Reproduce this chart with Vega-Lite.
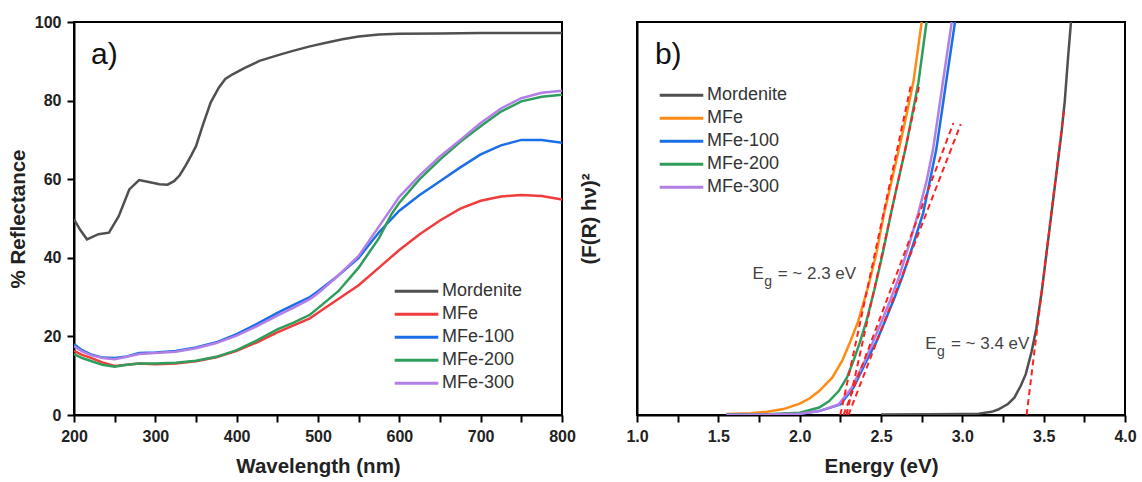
{
  "$schema": "https://vega.github.io/schema/vega-lite/v6.json",
  "padding": {"left": 7, "top": 13, "right": 5, "bottom": 5},
  "background": "white",
  "config": {
    "font": "Liberation Sans",
    "view": {"stroke": "black", "strokeWidth": 2},
    "axis": {
      "grid": false,
      "domainColor": "black", "domainWidth": 2,
      "tickColor": "black", "tickWidth": 2, "tickSize": 7,
      "labelFont": "Liberation Sans", "labelFontWeight": "bold", "labelFontSize": 16, "labelColor": "#222", "labelPadding": 6,
      "titleFont": "Liberation Sans", "titleFontWeight": "bold", "titleFontSize": 20.5, "titleColor": "#222",
      "labelOverlap": false, "labelFlush": false
    },
    "legend": {
      "labelFont": "Liberation Sans", "labelFontSize": 18, "labelColor": "#333",
      "symbolType": "stroke", "symbolStrokeWidth": 3, "symbolSize": 1900, "labelOffset": 2,
      "clipHeight": 20.7, "rowPadding": 2
    }
  },
  "datasets": {
    "refl": [
      {"s":"Mordenite","wl":200,"r":49.8},{"s":"Mordenite","wl":208,"r":47},{"s":"Mordenite","wl":216,"r":44.7},{"s":"Mordenite","wl":230,"r":46},{"s":"Mordenite","wl":243,"r":46.4},{"s":"Mordenite","wl":255,"r":50.6},{"s":"Mordenite","wl":268,"r":57.4},{"s":"Mordenite","wl":280,"r":59.8},{"s":"Mordenite","wl":292,"r":59.3},{"s":"Mordenite","wl":305,"r":58.7},{"s":"Mordenite","wl":315,"r":58.6},{"s":"Mordenite","wl":323,"r":59.5},{"s":"Mordenite","wl":330,"r":61},{"s":"Mordenite","wl":337,"r":63.4},{"s":"Mordenite","wl":344,"r":66},{"s":"Mordenite","wl":350,"r":68.4},{"s":"Mordenite","wl":358,"r":73.5},{"s":"Mordenite","wl":368,"r":79.5},{"s":"Mordenite","wl":378,"r":83.3},{"s":"Mordenite","wl":386,"r":85.5},{"s":"Mordenite","wl":395,"r":86.7},{"s":"Mordenite","wl":410,"r":88.3},{"s":"Mordenite","wl":428,"r":90.1},{"s":"Mordenite","wl":450,"r":91.5},{"s":"Mordenite","wl":468,"r":92.6},{"s":"Mordenite","wl":490,"r":93.8},{"s":"Mordenite","wl":510,"r":94.7},{"s":"Mordenite","wl":530,"r":95.6},{"s":"Mordenite","wl":550,"r":96.3},{"s":"Mordenite","wl":575,"r":96.8},{"s":"Mordenite","wl":600,"r":97.0},{"s":"Mordenite","wl":650,"r":97.1},{"s":"Mordenite","wl":700,"r":97.2},{"s":"Mordenite","wl":750,"r":97.2},{"s":"Mordenite","wl":800,"r":97.2},
      {"s":"MFe","wl":200,"r":16.3},{"s":"MFe","wl":210,"r":15.3},{"s":"MFe","wl":220,"r":14.6},{"s":"MFe","wl":235,"r":13.4},{"s":"MFe","wl":250,"r":12.5},{"s":"MFe","wl":265,"r":12.8},{"s":"MFe","wl":280,"r":13.1},{"s":"MFe","wl":300,"r":12.9},{"s":"MFe","wl":325,"r":13.1},{"s":"MFe","wl":350,"r":13.7},{"s":"MFe","wl":375,"r":14.7},{"s":"MFe","wl":400,"r":16.3},{"s":"MFe","wl":425,"r":18.5},{"s":"MFe","wl":450,"r":21},{"s":"MFe","wl":470,"r":22.8},{"s":"MFe","wl":490,"r":24.6},{"s":"MFe","wl":500,"r":26},{"s":"MFe","wl":525,"r":29.5},{"s":"MFe","wl":550,"r":33},{"s":"MFe","wl":575,"r":37.5},{"s":"MFe","wl":600,"r":42},{"s":"MFe","wl":625,"r":46},{"s":"MFe","wl":650,"r":49.5},{"s":"MFe","wl":675,"r":52.5},{"s":"MFe","wl":700,"r":54.5},{"s":"MFe","wl":725,"r":55.6},{"s":"MFe","wl":750,"r":56},{"s":"MFe","wl":775,"r":55.7},{"s":"MFe","wl":800,"r":54.8},
      {"s":"MFe-100","wl":200,"r":18},{"s":"MFe-100","wl":210,"r":16.5},{"s":"MFe-100","wl":220,"r":15.5},{"s":"MFe-100","wl":235,"r":14.6},{"s":"MFe-100","wl":250,"r":14.5},{"s":"MFe-100","wl":265,"r":14.9},{"s":"MFe-100","wl":280,"r":15.8},{"s":"MFe-100","wl":300,"r":15.9},{"s":"MFe-100","wl":325,"r":16.3},{"s":"MFe-100","wl":350,"r":17.2},{"s":"MFe-100","wl":375,"r":18.5},{"s":"MFe-100","wl":400,"r":20.6},{"s":"MFe-100","wl":425,"r":23.2},{"s":"MFe-100","wl":450,"r":26},{"s":"MFe-100","wl":470,"r":28},{"s":"MFe-100","wl":490,"r":30},{"s":"MFe-100","wl":500,"r":31.5},{"s":"MFe-100","wl":525,"r":35.5},{"s":"MFe-100","wl":550,"r":40},{"s":"MFe-100","wl":575,"r":46.5},{"s":"MFe-100","wl":600,"r":52},{"s":"MFe-100","wl":625,"r":56},{"s":"MFe-100","wl":650,"r":59.5},{"s":"MFe-100","wl":675,"r":63},{"s":"MFe-100","wl":700,"r":66.3},{"s":"MFe-100","wl":725,"r":68.6},{"s":"MFe-100","wl":750,"r":70},{"s":"MFe-100","wl":775,"r":70},{"s":"MFe-100","wl":800,"r":69.3},
      {"s":"MFe-200","wl":200,"r":15.5},{"s":"MFe-200","wl":210,"r":14.5},{"s":"MFe-200","wl":220,"r":13.8},{"s":"MFe-200","wl":235,"r":12.8},{"s":"MFe-200","wl":250,"r":12.3},{"s":"MFe-200","wl":265,"r":12.8},{"s":"MFe-200","wl":280,"r":13.1},{"s":"MFe-200","wl":300,"r":13.1},{"s":"MFe-200","wl":325,"r":13.3},{"s":"MFe-200","wl":350,"r":13.8},{"s":"MFe-200","wl":375,"r":14.8},{"s":"MFe-200","wl":400,"r":16.5},{"s":"MFe-200","wl":425,"r":19},{"s":"MFe-200","wl":450,"r":21.8},{"s":"MFe-200","wl":470,"r":23.5},{"s":"MFe-200","wl":490,"r":25.5},{"s":"MFe-200","wl":500,"r":27.2},{"s":"MFe-200","wl":525,"r":31.5},{"s":"MFe-200","wl":550,"r":37.5},{"s":"MFe-200","wl":575,"r":45},{"s":"MFe-200","wl":590,"r":51},{"s":"MFe-200","wl":600,"r":54},{"s":"MFe-200","wl":625,"r":60},{"s":"MFe-200","wl":650,"r":65},{"s":"MFe-200","wl":675,"r":69.5},{"s":"MFe-200","wl":700,"r":73.5},{"s":"MFe-200","wl":725,"r":77.2},{"s":"MFe-200","wl":750,"r":79.8},{"s":"MFe-200","wl":775,"r":81},{"s":"MFe-200","wl":800,"r":81.5},
      {"s":"MFe-300","wl":200,"r":17.5},{"s":"MFe-300","wl":210,"r":16.2},{"s":"MFe-300","wl":220,"r":15.3},{"s":"MFe-300","wl":235,"r":14.5},{"s":"MFe-300","wl":250,"r":14.2},{"s":"MFe-300","wl":265,"r":14.8},{"s":"MFe-300","wl":280,"r":15.5},{"s":"MFe-300","wl":300,"r":15.8},{"s":"MFe-300","wl":325,"r":16.1},{"s":"MFe-300","wl":350,"r":17},{"s":"MFe-300","wl":375,"r":18.3},{"s":"MFe-300","wl":400,"r":20.2},{"s":"MFe-300","wl":425,"r":22.6},{"s":"MFe-300","wl":450,"r":25.3},{"s":"MFe-300","wl":470,"r":27.3},{"s":"MFe-300","wl":490,"r":29.5},{"s":"MFe-300","wl":500,"r":31},{"s":"MFe-300","wl":525,"r":35.5},{"s":"MFe-300","wl":550,"r":40.5},{"s":"MFe-300","wl":575,"r":48},{"s":"MFe-300","wl":600,"r":55.5},{"s":"MFe-300","wl":625,"r":61},{"s":"MFe-300","wl":650,"r":65.8},{"s":"MFe-300","wl":675,"r":70},{"s":"MFe-300","wl":700,"r":74.3},{"s":"MFe-300","wl":725,"r":78},{"s":"MFe-300","wl":750,"r":80.6},{"s":"MFe-300","wl":775,"r":82},{"s":"MFe-300","wl":800,"r":82.5}
    ],
    "tauc": [
      {"s":"Mordenite","e":2.5,"v":0.15},{"s":"Mordenite","e":2.8,"v":0.2},{"s":"Mordenite","e":3.0,"v":0.25},{"s":"Mordenite","e":3.1,"v":0.35},{"s":"Mordenite","e":3.18,"v":0.8},{"s":"Mordenite","e":3.22,"v":1.4},{"s":"Mordenite","e":3.28,"v":2.8},{"s":"Mordenite","e":3.32,"v":4.4},{"s":"Mordenite","e":3.36,"v":7.5},{"s":"Mordenite","e":3.39,"v":10.4},{"s":"Mordenite","e":3.425,"v":16},{"s":"Mordenite","e":3.455,"v":22},{"s":"Mordenite","e":3.49,"v":32},{"s":"Mordenite","e":3.52,"v":42},{"s":"Mordenite","e":3.55,"v":52},{"s":"Mordenite","e":3.58,"v":62},{"s":"Mordenite","e":3.61,"v":72},{"s":"Mordenite","e":3.63,"v":80},{"s":"Mordenite","e":3.65,"v":91},{"s":"Mordenite","e":3.668,"v":100},
      {"s":"MFe","e":1.55,"v":0.25},{"s":"MFe","e":1.7,"v":0.45},{"s":"MFe","e":1.8,"v":0.8},{"s":"MFe","e":1.9,"v":1.5},{"s":"MFe","e":2.0,"v":2.9},{"s":"MFe","e":2.06,"v":4.2},{"s":"MFe","e":2.12,"v":6.1},{"s":"MFe","e":2.2,"v":9.5},{"s":"MFe","e":2.26,"v":13.7},{"s":"MFe","e":2.31,"v":18.5},{"s":"MFe","e":2.36,"v":23.9},{"s":"MFe","e":2.42,"v":32.5},{"s":"MFe","e":2.47,"v":40.8},{"s":"MFe","e":2.52,"v":51.5},{"s":"MFe","e":2.565,"v":59.5},{"s":"MFe","e":2.61,"v":67.6},{"s":"MFe","e":2.655,"v":76},{"s":"MFe","e":2.70,"v":85},{"s":"MFe","e":2.75,"v":100},
      {"s":"MFe-100","e":1.55,"v":0.05},{"s":"MFe-100","e":1.8,"v":0.1},{"s":"MFe-100","e":2.0,"v":0.3},{"s":"MFe-100","e":2.12,"v":1.0},{"s":"MFe-100","e":2.25,"v":2.7},{"s":"MFe-100","e":2.33,"v":6.9},{"s":"MFe-100","e":2.41,"v":13.7},{"s":"MFe-100","e":2.47,"v":18.5},{"s":"MFe-100","e":2.525,"v":23.9},{"s":"MFe-100","e":2.58,"v":29.5},{"s":"MFe-100","e":2.63,"v":35},{"s":"MFe-100","e":2.695,"v":43},{"s":"MFe-100","e":2.76,"v":51.5},{"s":"MFe-100","e":2.80,"v":59.5},{"s":"MFe-100","e":2.84,"v":67.6},{"s":"MFe-100","e":2.87,"v":76},{"s":"MFe-100","e":2.90,"v":84.6},{"s":"MFe-100","e":2.955,"v":100},
      {"s":"MFe-200","e":1.55,"v":0.1},{"s":"MFe-200","e":1.8,"v":0.2},{"s":"MFe-200","e":2.0,"v":0.6},{"s":"MFe-200","e":2.12,"v":1.9},{"s":"MFe-200","e":2.18,"v":3.5},{"s":"MFe-200","e":2.24,"v":6.1},{"s":"MFe-200","e":2.29,"v":9.5},{"s":"MFe-200","e":2.33,"v":13.7},{"s":"MFe-200","e":2.37,"v":18.5},{"s":"MFe-200","e":2.41,"v":23.9},{"s":"MFe-200","e":2.46,"v":32},{"s":"MFe-200","e":2.51,"v":41},{"s":"MFe-200","e":2.56,"v":51},{"s":"MFe-200","e":2.605,"v":59.5},{"s":"MFe-200","e":2.65,"v":67.6},{"s":"MFe-200","e":2.69,"v":76},{"s":"MFe-200","e":2.73,"v":84.6},{"s":"MFe-200","e":2.78,"v":100},
      {"s":"MFe-300","e":1.55,"v":0.05},{"s":"MFe-300","e":1.8,"v":0.1},{"s":"MFe-300","e":2.0,"v":0.3},{"s":"MFe-300","e":2.12,"v":1.0},{"s":"MFe-300","e":2.24,"v":2.7},{"s":"MFe-300","e":2.32,"v":6.9},{"s":"MFe-300","e":2.40,"v":13.7},{"s":"MFe-300","e":2.45,"v":18.5},{"s":"MFe-300","e":2.505,"v":23.9},{"s":"MFe-300","e":2.56,"v":29.5},{"s":"MFe-300","e":2.61,"v":35},{"s":"MFe-300","e":2.67,"v":43},{"s":"MFe-300","e":2.73,"v":51.5},{"s":"MFe-300","e":2.78,"v":59.5},{"s":"MFe-300","e":2.82,"v":67.6},{"s":"MFe-300","e":2.85,"v":76},{"s":"MFe-300","e":2.88,"v":84.6},{"s":"MFe-300","e":2.935,"v":100}
    ],
    "fits": [
      {"fit":"A","e":2.25,"v":0},{"fit":"A","e":2.687,"v":84.5},
      {"fit":"B","e":2.288,"v":0},{"fit":"B","e":2.736,"v":84},
      {"fit":"C","e":2.27,"v":0},{"fit":"C","e":2.945,"v":74.3},
      {"fit":"D","e":2.30,"v":0},{"fit":"D","e":2.99,"v":74},
      {"fit":"M","e":3.395,"v":0},{"fit":"M","e":3.626,"v":78}
    ],
    "notesBig": [
      {"e":1.71,"v":34.6,"t":"E"},{"e":1.865,"v":34.6,"t":"= ~ 2.3 eV"},
      {"e":2.772,"v":16.8,"t":"E"},{"e":2.93,"v":16.8,"t":"= ~ 3.4 eV"}
    ],
    "notesSub": [
      {"e":1.782,"v":32.8,"t":"g"},
      {"e":2.844,"v":15.0,"t":"g"}
    ]
  },
  "hconcat": [
    {
      "width": 488, "height": 393,
      "layer": [
        {
          "data": {"name": "refl"},
          "mark": {"type": "line", "strokeWidth": 2.5, "clip": true},
          "encoding": {
            "x": {"field": "wl", "type": "quantitative",
                  "scale": {"domain": [200, 800], "nice": false, "zero": false},
                  "axis": {"title": "Wavelength (nm)", "titlePadding": 12,
                           "values": [200,250,300,350,400,450,500,550,600,650,700,750,800],
                           "labelExpr": "datum.value % 100 === 0 ? datum.label : ''"}},
            "y": {"field": "r", "type": "quantitative",
                  "scale": {"domain": [0, 100], "nice": false},
                  "axis": {"title": "% Reflectance", "titlePadding": 6,
                           "values": [0,10,20,30,40,50,60,70,80,90,100],
                           "labelExpr": "datum.value % 20 === 0 ? datum.label : ''"}},
            "color": {"field": "s", "type": "nominal",
                      "scale": {"domain": ["Mordenite","MFe","MFe-100","MFe-200","MFe-300"],
                                "range": ["#505050","#f03c3c","#1a6fe6","#2f9e5c","#b27fe6"]},
                      "legend": {"title": null, "orient": "none", "legendX": 319, "legendY": 259}}
          }
        },
        {
          "data": {"values": [{"wl": 220.9, "r": 91.6, "t": "a)"}]},
          "mark": {"type": "text", "fontSize": 30, "align": "left", "baseline": "middle", "font": "Liberation Sans", "color": "#111"},
          "encoding": {
            "x": {"field": "wl", "type": "quantitative"},
            "y": {"field": "r", "type": "quantitative"},
            "text": {"field": "t"}
          }
        }
      ]
    },
    {
      "width": 488, "height": 393,
      "layer": [
        {
          "data": {"name": "tauc"},
          "mark": {"type": "line", "strokeWidth": 2.5, "clip": true},
          "encoding": {
            "x": {"field": "e", "type": "quantitative",
                  "scale": {"domain": [1, 4], "nice": false, "zero": false},
                  "axis": {"title": "Energy (eV)", "titlePadding": 12,
                           "values": [1,1.25,1.5,1.75,2,2.25,2.5,2.75,3,3.25,3.5,3.75,4],
                           "labelExpr": "(datum.value * 2) % 1 === 0 ? format(datum.value, '.1f') : ''"}},
            "y": {"field": "v", "type": "quantitative",
                  "scale": {"domain": [0, 100], "nice": false},
                  "axis": {"title": "(F(R) hν)²", "labels": false, "ticks": false, "titlePadding": 38}},
            "color": {"field": "s", "type": "nominal",
                      "scale": {"domain": ["Mordenite","MFe","MFe-100","MFe-200","MFe-300"],
                                "range": ["#505050","#ff8a14","#1a6fe6","#2f9e5c","#b27fe6"]},
                      "legend": {"title": null, "orient": "none", "legendX": 21, "legendY": 63}}
          }
        },
        {
          "data": {"name": "fits"},
          "mark": {"type": "line", "strokeWidth": 2, "color": "#ff2020", "strokeDash": [6, 4], "clip": true},
          "encoding": {
            "x": {"field": "e", "type": "quantitative"},
            "y": {"field": "v", "type": "quantitative"},
            "detail": {"field": "fit"}
          }
        },
        {
          "data": {"name": "notesBig"},
          "mark": {"type": "text", "fontSize": 17, "align": "left", "baseline": "alphabetic", "font": "Liberation Sans", "color": "#444"},
          "encoding": {
            "x": {"field": "e", "type": "quantitative"},
            "y": {"field": "v", "type": "quantitative"},
            "text": {"field": "t"}
          }
        },
        {
          "data": {"name": "notesSub"},
          "mark": {"type": "text", "fontSize": 14, "align": "left", "baseline": "alphabetic", "font": "Liberation Sans", "color": "#444"},
          "encoding": {
            "x": {"field": "e", "type": "quantitative"},
            "y": {"field": "v", "type": "quantitative"},
            "text": {"field": "t"}
          }
        },
        {
          "data": {"values": [{"e": 1.11, "v": 91.6, "t": "b)"}]},
          "mark": {"type": "text", "fontSize": 30, "align": "left", "baseline": "middle", "font": "Liberation Sans", "color": "#111"},
          "encoding": {
            "x": {"field": "e", "type": "quantitative"},
            "y": {"field": "v", "type": "quantitative"},
            "text": {"field": "t"}
          }
        }
      ]
    }
  ],
  "spacing": 75,
  "bounds": "flush",
  "resolve": {"scale": {"color": "independent"}, "legend": {"color": "independent"}}
}
